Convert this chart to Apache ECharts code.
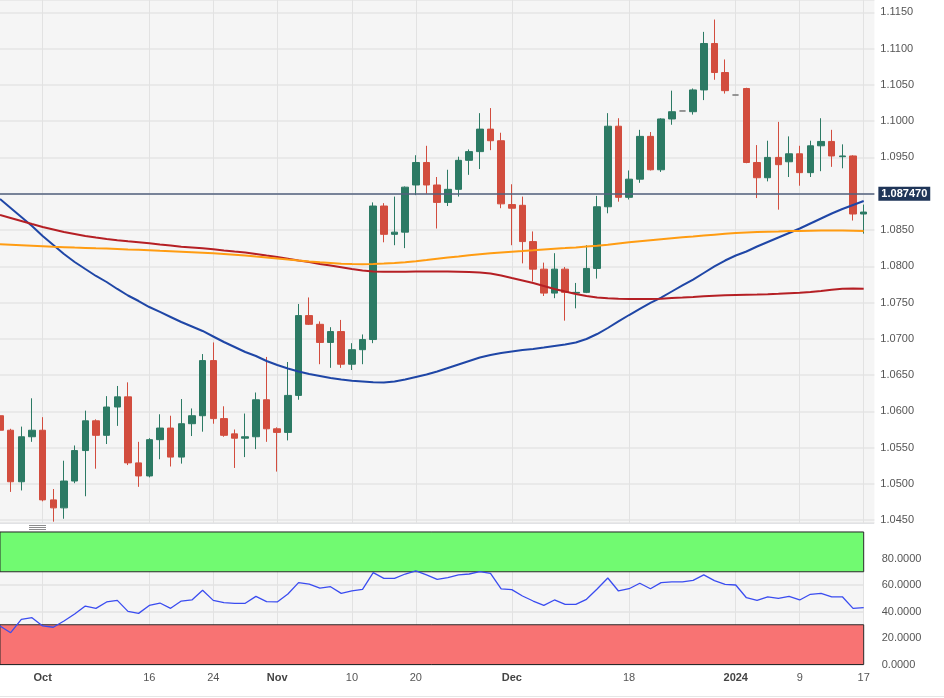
<!DOCTYPE html>
<html><head><meta charset="utf-8">
<script src="https://cdn.jsdelivr.net/npm/echarts@6/dist/echarts.min.js"></script>
<style>html,body{margin:0;padding:0;background:#fff}#c{width:944px;height:698px}</style>
</head><body><div id="c"></div>
<script>
const dates = [
'2023-09-26','2023-09-27','2023-09-28','2023-09-29',
'2023-10-02','2023-10-03','2023-10-04','2023-10-05','2023-10-06',
'2023-10-09','2023-10-10','2023-10-11','2023-10-12','2023-10-13',
'2023-10-16','2023-10-17','2023-10-18','2023-10-19','2023-10-20',
'2023-10-23','2023-10-24','2023-10-25','2023-10-26','2023-10-27',
'2023-10-30','2023-10-31','2023-11-01','2023-11-02','2023-11-03',
'2023-11-06','2023-11-07','2023-11-08','2023-11-09','2023-11-10',
'2023-11-13','2023-11-14','2023-11-15','2023-11-16','2023-11-17',
'2023-11-20','2023-11-21','2023-11-22','2023-11-23','2023-11-24',
'2023-11-27','2023-11-28','2023-11-29','2023-11-30','2023-12-01',
'2023-12-04','2023-12-05','2023-12-06','2023-12-07','2023-12-08',
'2023-12-11','2023-12-12','2023-12-13','2023-12-14','2023-12-15',
'2023-12-18','2023-12-19','2023-12-20','2023-12-21','2023-12-22',
'2023-12-25','2023-12-26','2023-12-27','2023-12-28','2023-12-29',
'2024-01-01','2024-01-02','2024-01-03','2024-01-04','2024-01-05',
'2024-01-08','2024-01-09','2024-01-10','2024-01-11','2024-01-12',
'2024-01-15','2024-01-16','2024-01-17'];
const nextSession = '2024-01-18';

const opens = [1.0594,1.0574,1.0503,1.0565,
1.0574,1.0478,1.0467,1.0504,1.0546,
1.0587,1.0567,1.0606,1.0620,1.0529,
1.0511,1.0561,1.0577,1.0537,1.0583,
1.0594,1.0670,1.0590,1.0569,1.0563,
1.0565,1.0616,1.0576,1.0571,1.0622,
1.0732,1.0720,1.0695,1.0710,1.0665,
1.0685,1.0699,1.0883,1.0844,1.0847,
1.0912,1.0943,1.0912,1.0888,1.0906,
1.0946,1.0958,1.0989,1.0973,1.0885,
1.0884,1.0834,1.0796,1.0763,1.0796,
1.0763,1.0764,1.0797,1.0882,1.0993,
1.0895,1.0920,1.0979,1.0933,1.1003,
1.1014,1.1013,1.1043,1.1107,1.1067,
1.1036,1.1045,1.0943,1.0922,1.0950,
1.0944,1.0955,1.0929,1.0966,1.0972,
1.0951,1.0952,1.0872];
const highs = [1.0609,1.0576,1.0579,1.0618,
1.0592,1.0493,1.0532,1.0553,1.0601,
1.0589,1.0621,1.0635,1.0640,1.0558,
1.0563,1.0596,1.0594,1.0617,1.0604,
1.0679,1.0695,1.0607,1.0575,1.0597,
1.0626,1.0675,1.0578,1.0668,1.0748,
1.0757,1.0724,1.0716,1.0726,1.0694,
1.0706,1.0888,1.0887,1.0896,1.0910,
1.0953,1.0966,1.0923,1.0933,1.0951,
1.0961,1.1011,1.1018,1.0984,1.0913,
1.0896,1.0848,1.0805,1.0818,1.0799,
1.0777,1.0829,1.0897,1.1011,1.1004,
1.0932,1.0988,1.0985,1.1004,1.1042,
1.1014,1.1045,1.1123,1.1140,1.1085,
1.1036,1.1046,1.0967,1.0973,1.0999,
1.0979,1.0966,1.0973,1.1004,1.0988,
1.0968,1.0953,1.0885];
const lows = [1.0562,1.0489,1.0491,1.0558,
1.0476,1.0448,1.0452,1.0501,1.0483,
1.0521,1.0555,1.0580,1.0526,1.0496,
1.0509,1.0534,1.0524,1.0528,1.0566,
1.0572,1.0583,1.0565,1.0522,1.0537,
1.0548,1.0558,1.0517,1.0560,1.0616,
1.0719,1.0665,1.0660,1.0660,1.0657,
1.0665,1.0694,1.0833,1.0829,1.0825,
1.0898,1.0900,1.0852,1.0883,1.0896,
1.0926,1.0934,1.0960,1.0880,1.0829,
1.0804,1.0779,1.0759,1.0756,1.0725,
1.0742,1.0763,1.0783,1.0873,1.0889,
1.0892,1.0915,1.0932,1.0930,1.0995,
1.1014,1.1009,1.1029,1.1057,1.1038,
1.1036,1.0942,1.0894,1.0917,1.0878,
1.0923,1.0911,1.0923,1.0931,1.0937,
1.0935,1.0863,1.0845];
const closes = [1.0574,1.0503,1.0565,1.0574,
1.0478,1.0467,1.0504,1.0546,1.0587,
1.0567,1.0606,1.0620,1.0529,1.0511,
1.0561,1.0577,1.0537,1.0583,1.0594,
1.0670,1.0590,1.0567,1.0563,1.0565,
1.0616,1.0576,1.0571,1.0622,1.0732,
1.0720,1.0695,1.0710,1.0665,1.0685,
1.0699,1.0883,1.0844,1.0847,1.0909,
1.0943,1.0912,1.0888,1.0906,1.0946,
1.0958,1.0989,1.0973,1.0886,1.0880,
1.0834,1.0796,1.0763,1.0796,1.0764,
1.0764,1.0797,1.0882,1.0993,1.0895,
1.0920,1.0979,1.0933,1.1003,1.1013,
1.1014,1.1043,1.1107,1.1067,1.1042,
1.1036,1.0943,1.0922,1.0950,1.0940,
1.0955,1.0929,1.0966,1.0972,1.0952,
1.0952,1.0872,1.08747];

const maBlue = [1.08927,1.08803,1.08679,1.08555,1.08417,1.08293,1.08169,1.08059,1.07962,1.07866,
1.07783,1.07687,1.07597,1.07521,1.07438,1.07370,1.07301,1.07232,1.07170,1.07108,
1.07032,1.06956,1.06887,1.06818,1.06763,1.06694,1.06639,1.06591,1.06550,1.06515,
1.06488,1.06460,1.06439,1.06423,1.06412,1.06401,1.06398,1.06412,1.06439,1.06474,
1.06508,1.06550,1.06598,1.06646,1.06694,1.06742,1.06777,1.06804,1.06825,1.06846,
1.06860,1.06880,1.06901,1.06922,1.06949,1.06997,1.07066,1.07149,1.07239,1.07328,
1.07411,1.07494,1.07569,1.07652,1.07735,1.07817,1.07907,1.07997,1.08079,1.08148,
1.08203,1.08272,1.08334,1.08396,1.08458,1.08520,1.08589,1.08658,1.08727,1.08789,
1.08844,1.08899];
const maRed = [1.08706,1.08665,1.08624,1.08582,1.08541,1.08507,1.08472,1.08445,1.08417,1.08396,
1.08376,1.08359,1.08344,1.08330,1.08316,1.08300,1.08286,1.08269,1.08258,1.08247,
1.08234,1.08217,1.08203,1.08190,1.08169,1.08148,1.08128,1.08104,1.08079,1.08059,
1.08031,1.08010,1.07986,1.07962,1.07941,1.07928,1.07924,1.07924,1.07925,1.07928,
1.07928,1.07928,1.07928,1.07925,1.07921,1.07914,1.07900,1.07873,1.07838,1.07804,
1.07769,1.07728,1.07687,1.07652,1.07618,1.07590,1.07569,1.07558,1.07551,1.07549,
1.07549,1.07549,1.07553,1.07563,1.07569,1.07576,1.07586,1.07593,1.07600,1.07604,
1.07608,1.07611,1.07615,1.07620,1.07627,1.07634,1.07645,1.07659,1.07676,1.07689,
1.07692,1.07689];
const maOrange = [1.08303,1.08296,1.08289,1.08282,1.08275,1.08268,1.08263,1.08257,1.08252,1.08247,
1.08243,1.08238,1.08232,1.08227,1.08221,1.08214,1.08208,1.08201,1.08194,1.08187,
1.08180,1.08169,1.08158,1.08147,1.08134,1.08122,1.08108,1.08093,1.08079,1.08066,
1.08055,1.08045,1.08035,1.08030,1.08027,1.08030,1.08037,1.08045,1.08056,1.08070,
1.08086,1.08103,1.08119,1.08134,1.08150,1.08165,1.08179,1.08190,1.08201,1.08210,
1.08220,1.08231,1.08241,1.08250,1.08260,1.08271,1.08282,1.08296,1.08314,1.08330,
1.08345,1.08359,1.08373,1.08387,1.08399,1.08410,1.08423,1.08435,1.08447,1.08457,
1.08465,1.08471,1.08476,1.08480,1.08485,1.08487,1.08490,1.08493,1.08494,1.08494,
1.08491,1.08486];
const rsi = [29.1,24.0,34.1,35.3,29.1,28.1,32.8,38.1,44.1,42.4,
47.2,48.4,40.1,38.6,44.6,46.4,42.4,47.9,48.7,56.0,
48.4,46.7,46.2,46.2,51.4,47.4,47.2,53.2,61.8,60.7,
57.7,58.7,53.7,55.5,56.7,69.3,65.0,65.0,68.3,70.6,
67.6,64.3,65.5,67.6,68.3,70.1,68.8,57.0,56.5,51.7,
47.9,44.6,48.7,45.4,45.4,49.2,57.0,65.3,55.5,57.2,
61.3,57.2,61.8,62.3,62.3,63.5,67.6,63.3,60.5,60.0,
50.4,48.4,51.1,49.9,51.4,48.7,53.0,53.7,51.1,51.1,
42.4,42.9];

const lastPrice = 1.08747;
const rsiUpper = 70, rsiLower = 30;
const xTickLabels = {
  '2023-10-02':'Oct','2023-10-16':'16','2023-10-24':'24','2023-11-01':'Nov',
  '2023-11-10':'10','2023-11-20':'20','2023-12-01':'Dec','2023-12-18':'18',
  '2024-01-01':'2024','2024-01-09':'9','2024-01-17':'17'
};
const boldLabels = ['Oct','Nov','Dec','2024'];

const FONT = '"Liberation Sans", Arial, Helvetica, sans-serif';
const chart = echarts.init(document.getElementById('c'), null, {renderer:'canvas'});
const mainCategories = dates.concat([nextSession]);
const candleData = dates.map((d,i)=>[opens[i], closes[i], lows[i], highs[i]]);
const STEP = 10.663;
const MAIN_W = (mainCategories.length - 1) * STEP;
const RSI_W = (dates.length - 1) * STEP;
const tickInterval = (idx, val) => xTickLabels[val] !== undefined;

chart.setOption({
  animation: false,
  backgroundColor: '#ffffff',
  grid: [
    {left: 0, width: MAIN_W, top: 0, height: 523, show: true, backgroundColor: '#f5f5f5', borderWidth: 0},
    {left: 0, width: RSI_W, top: 532, height: 132.5, show: true, backgroundColor: '#f5f5f5', borderWidth: 0}
  ],
  xAxis: [
    {type:'category', gridIndex:0, data: mainCategories, boundaryGap:false,
     axisLine:{show:false}, axisTick:{show:false}, axisLabel:{show:false},
     splitLine:{show:true, interval: tickInterval, lineStyle:{color:'#e2e2e2', width:1}}},
    {type:'category', gridIndex:1, data: dates, boundaryGap:false,
     axisLine:{show:false}, axisTick:{show:false},
     axisLabel:{show:true, interval: tickInterval, margin: 8, color:'#555', fontSize:11, fontFamily: FONT,
       formatter: v => { const t = xTickLabels[v]; if (t === undefined) return ''; return boldLabels.includes(t) ? '{b|'+t+'}' : t; },
       rich:{ b:{fontWeight:'bold', color:'#444', fontSize:11, fontFamily: FONT} }},
     splitLine:{show:true, interval: tickInterval, lineStyle:{color:'#e2e2e2', width:1}}}
  ],
  yAxis: [
    {type:'value', gridIndex:0, position:'right', min:1.044615, max:1.116695, splitNumber:14,
     axisLine:{show:false}, axisTick:{show:false},
     axisLabel:{margin:6, color:'#555', fontSize:11, fontFamily: FONT,
       formatter: v => { const r = Math.round(v/0.005)*0.005; return Math.abs(r - v) < 1e-7 ? r.toFixed(4) : ''; }},
     splitLine:{show:true, lineStyle:{color:'#e4e4e4', width:1.5}}},
    {type:'value', gridIndex:1, position:'right', min:0, max:100, interval:20,
     axisLine:{show:false}, axisTick:{show:false},
     axisLabel:{margin:18, color:'#555', fontSize:11, fontFamily: FONT, showMaxLabel:false,
       formatter: v => v >= 100 ? '' : v.toFixed(4)},
     splitLine:{show:true, lineStyle:{color:'#e2e2e2', width:1.5}}}
  ],
  series: [
    {type:'candlestick', xAxisIndex:0, yAxisIndex:0, data: candleData, barWidth: 7, clip: false,
     itemStyle:{color:'#2c7a64', color0:'#d24d3e', borderColor:'#2c7a64', borderColor0:'#d24d3e', borderColorDoji:'#777777', borderWidth:1},
     markLine:{silent:true, symbol:['none','none'], animation:false,
       data:[{yAxis:lastPrice}],
       lineStyle:{color:'#52607c', width:1.5, type:'solid'},
       label:{show:true, position:'end', distance:4, formatter: lastPrice.toFixed(6), color:'#ffffff',
         backgroundColor:'#1f3558', padding:[2,3,1,3], fontSize:11, fontWeight:'bold', fontFamily: FONT}}},
    {type:'line', name:'MA blue', xAxisIndex:0, yAxisIndex:0, data: maBlue, symbol:'none', smooth:false,
     lineStyle:{color:'#1f46a6', width:2}},
    {type:'line', name:'MA red', xAxisIndex:0, yAxisIndex:0, data: maRed, symbol:'none', smooth:false,
     lineStyle:{color:'#b51f24', width:2}},
    {type:'line', name:'MA orange', xAxisIndex:0, yAxisIndex:0, data: maOrange, symbol:'none', smooth:false,
     lineStyle:{color:'#ff9c12', width:2}},
    {type:'line', name:'RSI', xAxisIndex:1, yAxisIndex:1, data: rsi, symbol:'none', smooth:false,
     lineStyle:{color:'#3a4cf0', width:1.3}, z: 5,
     markArea:{silent:true, data:[
       [{yAxis:rsiUpper, itemStyle:{color:'#71fa71', borderColor:'#2a2a2a', borderWidth:1}}, {yAxis:100}],
       [{yAxis:0, itemStyle:{color:'#f87373', borderColor:'#2a2a2a', borderWidth:1}}, {yAxis:rsiLower}]
     ]}}
  ],
  graphic: [
    {type:'line', shape:{x1:0, y1:523.5, x2:874, y2:523.5}, style:{stroke:'#d6dce6', lineWidth:1}, silent:true},
    {type:'line', shape:{x1:29, y1:525.5, x2:46, y2:525.5}, style:{stroke:'#8c8c8c', lineWidth:1}, silent:true},
    {type:'line', shape:{x1:29, y1:527.5, x2:46, y2:527.5}, style:{stroke:'#8c8c8c', lineWidth:1}, silent:true},
    {type:'line', shape:{x1:29, y1:529.5, x2:46, y2:529.5}, style:{stroke:'#8c8c8c', lineWidth:1}, silent:true},
    {type:'line', shape:{x1:0, y1:696.5, x2:944, y2:696.5}, style:{stroke:'#e6e6e6', lineWidth:1}, silent:true}
  ]
});
</script>
</body></html>
